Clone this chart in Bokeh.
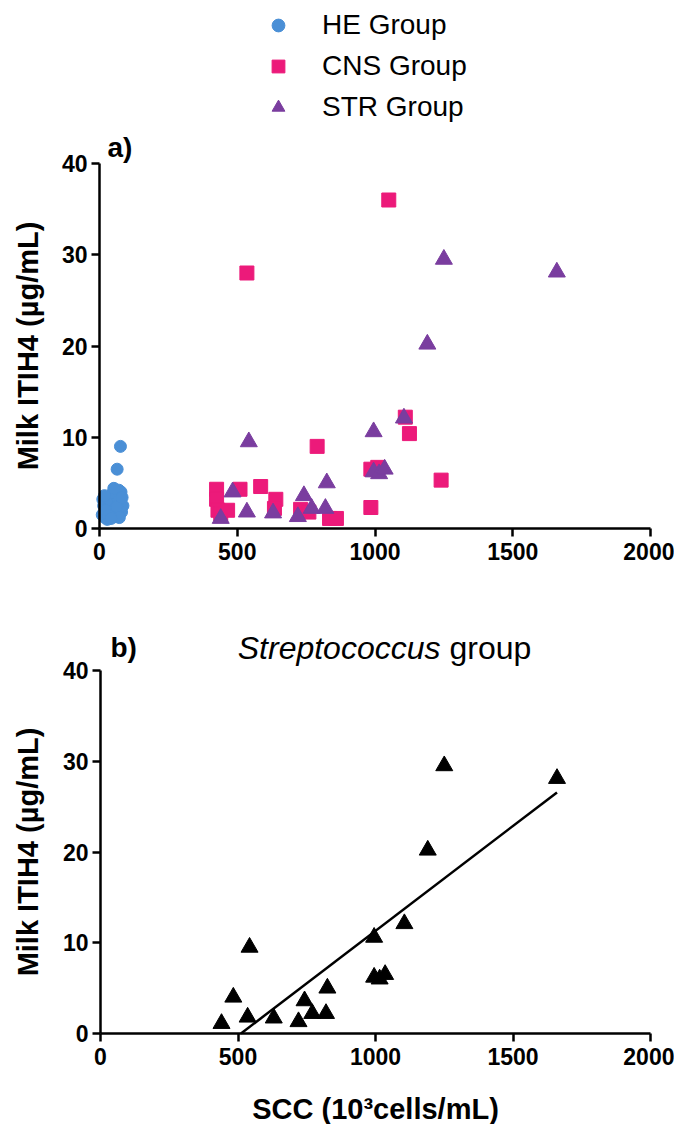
import math
import numpy as np
from bokeh.plotting import figure
from bokeh.models import FixedTicker, Legend, LegendItem, Label
from bokeh.layouts import column
from bokeh.embed import file_html
from bokeh.resources import INLINE

# ---- data ----
he_scc = [10, 15, 20, 25, 30, 35, 40, 45, 50, 55, 60, 65, 70, 75, 80, 85,
          12, 28, 38, 48, 58, 68, 78, 22, 52, 62, 33, 72, 42, 18, 82, 64, 76]
he_itih4 = [1.5, 2.5, 1.2, 3.0, 2.0, 1.8, 3.5, 2.2, 1.5, 2.8, 3.8, 2.0, 4.2, 3.2, 1.8, 2.5,
            3.2, 1.0, 2.6, 3.9, 1.3, 3.0, 4.0, 2.0, 4.4, 2.4, 1.4, 1.2, 1.1, 3.6, 3.4, 6.5, 9.0]

cns_scc = [535, 1050, 1110, 1125, 1240, 790, 985, 985, 1010, 425, 425, 430, 440,
           465, 510, 585, 640, 635, 730, 760, 835, 860]
cns_itih4 = [28.0, 36.0, 12.2, 10.4, 5.3, 9.0, 6.5, 2.3, 6.7, 4.3, 3.2, 2.0, 1.6,
             2.0, 4.3, 4.6, 3.2, 2.2, 2.1, 1.8, 1.1, 1.1]

str_scc = [440, 483, 535, 542, 630, 720, 742, 770, 820, 825, 995, 995, 1015, 1035,
           1105, 1190, 1250, 1660]
str_itih4 = [1.1, 4.0, 1.8, 9.5, 1.7, 1.3, 3.6, 2.2, 2.2, 5.0, 10.6, 6.2, 6.0, 6.5,
             12.1, 20.2, 29.5, 28.1]

x_ticks = [0, 500, 1000, 1500, 2000]
y_ticks = [0, 10, 20, 30, 40]
legend_labels = ["HE Group", "CNS Group", "STR Group"]
y_label = "Milk ITIH4 (\u00b5g/mL)"
x_label = "SCC (10\u00b3cells/mL)"
panel_a_tag = "a)"
panel_b_tag = "b)"
title_italic = "Streptococcus"
title_plain = "group"

# ---- layout constants (picture pixels) ----
FONT = "Liberation Sans"
HE_C = "#4a8fd6"
CNS_C = "#ec1a7a"
STR_C = "#7a3d9f"
W = 674
X_MIN, X_MAX = 0, 2000
Y_MIN, Y_MAX = 0, 40


def make_panel(fig_top, fig_h, x0_px, x1_px, y0_px, y1_px):
    """Figure whose frame covers the whole canvas; axes pinned at data 0."""
    left, right = 0, W
    bottom = fig_top + fig_h
    kx = (X_MAX - X_MIN) / (x1_px - x0_px)
    ky = (Y_MAX - Y_MIN) / (y0_px - y1_px)
    xr = (X_MIN - (x0_px - left) * kx, X_MAX + (right - x1_px) * kx)
    yr = (Y_MIN - (bottom - y0_px) * ky, Y_MAX + (y1_px - fig_top) * ky)
    p = figure(width=W, height=fig_h, x_range=xr, y_range=yr, min_border=0,
               output_backend="svg", toolbar_location=None)
    p.xaxis.ticker = FixedTicker(ticks=x_ticks)
    p.yaxis.ticker = FixedTicker(ticks=y_ticks)
    p.xaxis.fixed_location = Y_MIN
    p.yaxis.fixed_location = X_MIN
    p.xaxis.bounds = (X_MIN, X_MAX)
    p.yaxis.bounds = (Y_MIN, Y_MAX)
    for ax in (p.xaxis[0], p.yaxis[0]):
        ax.axis_line_width = 2.5
        ax.axis_line_color = "black"
        ax.major_tick_line_width = 2.5
        ax.major_tick_line_color = "black"
        ax.major_tick_out = 8
        ax.major_tick_in = 0
        ax.minor_tick_line_color = None
        ax.major_label_text_font = FONT
        ax.major_label_text_font_style = "bold"
        ax.major_label_text_font_size = "23px"
        ax.major_label_text_color = "black"
    p.xaxis.major_label_standoff = 6
    p.yaxis.major_label_standoff = 4
    p.xgrid.visible = False
    p.ygrid.visible = False
    p.outline_line_color = None
    p.background_fill_color = "white"
    p.border_fill_color = "white"
    # y axis title, centred on the 0..40 axis
    p.add_layout(Label(x=27 - left, y=bottom - (y0_px + y1_px) / 2,
                       x_units="screen", y_units="screen", text=y_label,
                       angle=math.pi / 2, text_align="center", text_baseline="middle",
                       text_font=FONT, text_font_style="bold", text_font_size="29px",
                       text_color="black"))
    return p, bottom


# ---- panel a (with legend) ----
pa, a_bottom = make_panel(fig_top=0, fig_h=590, x0_px=99, x1_px=650, y0_px=528, y1_px=163)
r_he = pa.scatter(he_scc, he_itih4, marker="circle", size=12, color=HE_C)
r_cns = pa.scatter(cns_scc, cns_itih4, marker="square", size=14, color=CNS_C)
r_str = pa.scatter(str_scc, str_itih4, marker="triangle", size=17, color=STR_C)

leg = Legend(items=[LegendItem(label=legend_labels[0], renderers=[r_he]),
                    LegendItem(label=legend_labels[1], renderers=[r_cns]),
                    LegendItem(label=legend_labels[2], renderers=[r_str])],
             location=(262, a_bottom - 123), orientation="vertical",
             glyph_width=32, glyph_height=32, label_height=32,
             label_standoff=28, spacing=9, padding=0, margin=0,
             border_line_color=None, background_fill_alpha=0,
             label_text_font=FONT, label_text_font_size="28px",
             label_text_color="black")
pa.add_layout(leg, "center")
pa.add_layout(Label(x=107, y=a_bottom - 147, x_units="screen", y_units="screen",
                    text=panel_a_tag, text_baseline="alphabetic",
                    text_font=FONT, text_font_style="bold", text_font_size="28px",
                    text_color="black"))

# ---- panel b (Streptococcus group, black, with fit line) ----
pb, b_bottom = make_panel(fig_top=590, fig_h=534, x0_px=100, x1_px=650, y0_px=1033, y1_px=670)
pb.scatter(str_scc, str_itih4, marker="triangle", size=17, color="black")

m, b = np.polyfit(str_scc, str_itih4, 1)
x0 = max(-b / m, min(str_scc))
x1 = max(str_scc)
pb.line([x0, x1], [m * x0 + b, m * x1 + b], line_width=2.5, color="black")

pb.add_layout(Label(x=110, y=b_bottom - 647, x_units="screen", y_units="screen",
                    text=panel_b_tag, text_baseline="alphabetic",
                    text_font=FONT, text_font_style="bold", text_font_size="28px",
                    text_color="black"))
pb.add_layout(Label(x=440, y=b_bottom - 647, x_units="screen", y_units="screen",
                    text=title_italic, text_align="right", text_baseline="alphabetic",
                    text_font=FONT, text_font_style="italic", text_font_size="32px",
                    text_color="black"))
pb.add_layout(Label(x=449, y=b_bottom - 647, x_units="screen", y_units="screen",
                    text=title_plain, text_align="left", text_baseline="alphabetic",
                    text_font=FONT, text_font_size="32px", text_color="black"))
pb.add_layout(Label(x=375, y=b_bottom - 1108, x_units="screen", y_units="screen",
                    text=x_label, text_align="center", text_baseline="middle",
                    text_font=FONT, text_font_style="bold", text_font_size="29px",
                    text_color="black"))

layout = column(pa, pb, spacing=0)
open("out.html", "w").write(file_html(layout, INLINE))
